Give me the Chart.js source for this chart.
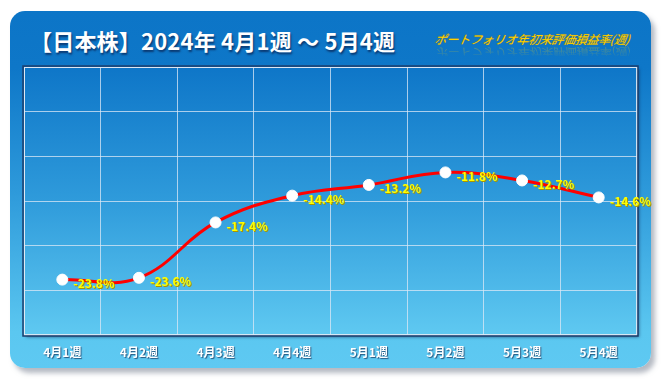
<!DOCTYPE html>
<html>
<head>
<meta charset="utf-8">
<script src="https://cdn.jsdelivr.net/npm/chart.js@4/dist/chart.umd.min.js"></script>
<style>
html,body{margin:0;padding:0;background:#fff;}
#wrap{position:relative;width:666px;height:384px;overflow:hidden;}
#card{position:absolute;left:10px;top:11px;width:641px;height:357px;border-radius:15px;
 background:linear-gradient(to bottom,#0c75c7 0%,#0e77c8 16%,#2d99da 50%,#5bc7f0 90%,#5ec9f2 100%);
 box-shadow:4px 5px 5px rgba(120,130,145,0.55);}
#title{position:absolute;left:30px;top:25px;font-family:"Noto Sans CJK JP",sans-serif;font-weight:bold;font-size:22px;color:#fff;
 letter-spacing:0.2px;white-space:nowrap;text-shadow:1px 2px 2px rgba(10,40,90,0.8);line-height:30px;}
#sub{position:absolute;left:435px;top:31px;font-family:"Noto Sans CJK JP",sans-serif;font-style:italic;font-size:12px;color:#ffd400;
 white-space:nowrap;line-height:16px;text-shadow:0 0 1px #a07800;transform:skewX(-10deg);letter-spacing:-0.3px;}
#subr{position:absolute;left:435px;top:44px;font-family:"Noto Sans CJK JP",sans-serif;font-style:italic;font-size:12px;color:#ffd400;
 white-space:nowrap;line-height:16px;transform:scaleY(-0.8) skewX(10deg);opacity:0.35;letter-spacing:-0.3px;
 -webkit-mask-image:linear-gradient(to top,rgba(0,0,0,1),rgba(0,0,0,0));}
canvas{position:absolute;left:0;top:0;}
</style>
</head>
<body>
<div id="wrap">
<div id="card"></div>
<div id="title">【日本株】2024年 4月1週 ～ 5月4週</div>
<div id="sub">ポートフォリオ年初来評価損益率(週)</div>
<div id="subr" aria-hidden="true">ポートフォリオ年初来評価損益率(週)</div>
<canvas id="c" width="666" height="384"></canvas>
</div>
<script>
const categories = ["4月1週","4月2週","4月3週","4月4週","5月1週","5月2週","5月3週","5月4週"];
const returns = [-23.8, -23.6, -17.4, -14.4, -13.2, -11.8, -12.7, -14.6];
const labelsText = ["-23.8%","-23.6%","-17.4%","-14.4%","-13.2%","-11.8%","-12.7%","-14.6%"];
const yMin = -30, yMax = 0, yStep = 5;

const plotBg = {
  id:'plotBg',
  beforeDraw(chart){
    const {ctx, chartArea:a} = chart;
    ctx.save();
    ctx.shadowColor='rgba(10,30,70,0.6)';
    ctx.shadowOffsetX=2; ctx.shadowOffsetY=2; ctx.shadowBlur=3;
    const g = ctx.createLinearGradient(0,a.top,0,a.bottom);
    g.addColorStop(0,'#0e76c8'); g.addColorStop(0.5,'#2f9bdb'); g.addColorStop(1,'#5fc9f1');
    ctx.fillStyle=g;
    ctx.fillRect(a.left,a.top,a.right-a.left,a.bottom-a.top);
    ctx.restore();
  }
};
const frame = {
  id:'frame',
  beforeDatasetsDraw(chart){
    const {ctx, chartArea:a} = chart;
    ctx.save();
    ctx.strokeStyle='#1c3f6e'; ctx.lineWidth=1.5;
    ctx.strokeRect(a.left-1,a.top-1,a.right-a.left+2,a.bottom-a.top+2);
    ctx.strokeStyle='rgba(225,235,245,0.9)'; ctx.lineWidth=1;
    ctx.strokeRect(a.left+0.5,a.top+0.5,a.right-a.left-1,a.bottom-a.top-1);
    ctx.restore();
  }
};
const valueLabels = {
  id:'valueLabels',
  afterDatasetsDraw(chart){
    const {ctx} = chart;
    const meta = chart.getDatasetMeta(0);
    ctx.save();
    ctx.font = 'bold 12px "Noto Sans CJK JP", sans-serif';
    ctx.textBaseline='middle'; ctx.textAlign='left';
    meta.data.forEach((pt,i)=>{
      const x = pt.x + 11, y = pt.y + 4;
      ctx.fillStyle='#a89400';
      ctx.fillText(labelsText[i], x+1, y+1);
      ctx.fillStyle='#ffff00';
      ctx.fillText(labelsText[i], x, y);
    });
    ctx.restore();
  }
};
const tickShadow = {
  id:'tickShadow',
  afterDatasetsDraw(chart){
    const ctx = chart.ctx;
    ctx.save();
    ctx.shadowColor='rgba(20,50,90,0.75)';
    ctx.shadowOffsetX=1; ctx.shadowOffsetY=1; ctx.shadowBlur=1;
  },
  afterDraw(chart){ chart.ctx.restore(); }
};

new Chart(document.getElementById('c'), {
  type:'line',
  data:{
    labels:categories,
    datasets:[{
      data:returns,
      borderColor:'#ff0000',
      borderWidth:3,
      tension:0.4,
      pointRadius:5.5,
      pointBackgroundColor:'#ffffff',
      pointBorderColor:'#ffffff',
      pointBorderWidth:1,
      fill:false
    }]
  },
  options:{
    responsive:false,
    animation:false,
    layout:{padding:{left:24,right:29,top:67,bottom:0}},
    plugins:{legend:{display:false},tooltip:{enabled:false},title:{display:false}},
    scales:{
      x:{
        offset:true,
        grid:{offset:true,color:'rgba(220,232,245,0.75)',lineWidth:1,drawTicks:false,z:0},
        border:{display:false},
        ticks:{color:'#ffffff',padding:10,z:1,font:{family:'"Noto Sans CJK JP", sans-serif',weight:'bold',size:12},
          maxRotation:0},
        afterFit(s){s.height=49;}
      },
      y:{
        min:yMin,max:yMax,
        ticks:{display:false,stepSize:yStep},
        grid:{color:'rgba(220,232,245,0.75)',lineWidth:1,drawTicks:false},
        border:{display:false},
        afterFit(s){s.width=0;}
      }
    }
  },
  plugins:[plotBg,frame,valueLabels,tickShadow]
});
</script>
</body>
</html>
